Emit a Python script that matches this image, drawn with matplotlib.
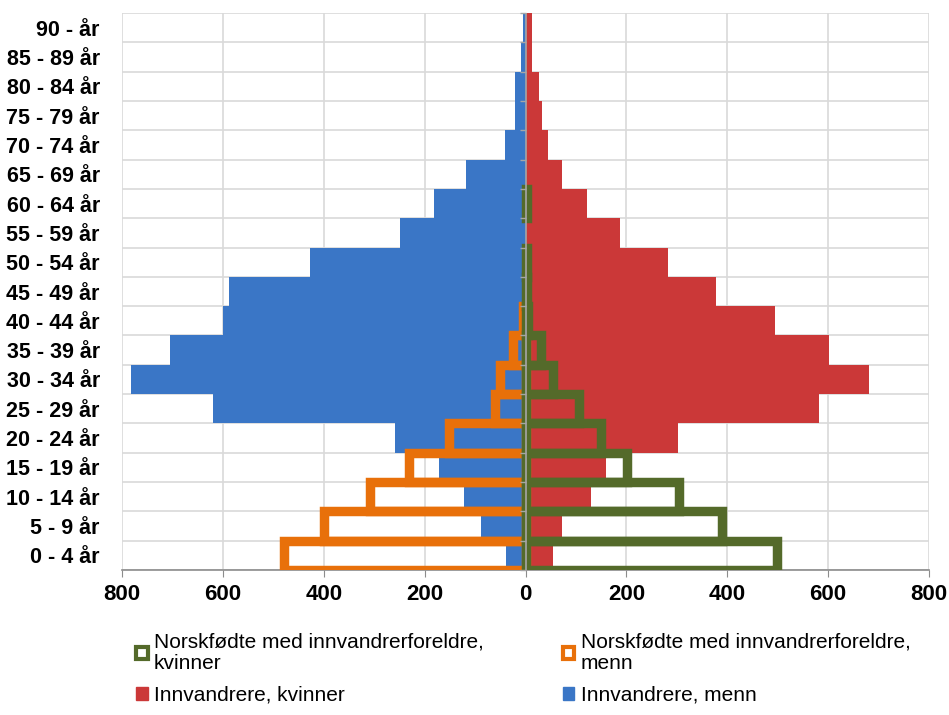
import numpy as np
import matplotlib
matplotlib.use("Agg")
import matplotlib.pyplot as plt
from matplotlib.patches import Patch

# age groups, bottom to top
ages = ["0 - 4 år", "5 - 9 år", "10 - 14 år", "15 - 19 år", "20 - 24 år",
        "25 - 29 år", "30 - 34 år", "35 - 39 år", "40 - 44 år", "45 - 49 år",
        "50 - 54 år", "55 - 59 år", "60 - 64 år", "65 - 69 år", "70 - 74 år",
        "75 - 79 år", "80 - 84 år", "85 - 89 år", "90 - år"]

innv_menn = [38, 88, 121, 172, 258, 619, 783, 704, 599, 587,
             428, 249, 181, 117, 40, 21, 21, 8, 4]
innv_kvinner = [55, 73, 130, 160, 303, 581, 681, 601, 495, 378,
                283, 187, 122, 73, 44, 32, 26, 13, 13]
norsk_menn = [478, 400, 308, 231, 151, 61, 51, 24, 5, 0,
              0, 0, 0, 0, 0, 0, 0, 0, 0]
norsk_kvinner = [499, 389, 305, 201, 150, 106, 54, 30, 5, 3,
                 3, 0, 2, 0, 0, 0, 0, 0, 0]

xticks = [-800, -600, -400, -200, 0, 200, 400, 600, 800]

C_BLUE = "#3A76C6"
C_RED = "#CB3838"
C_ORANGE = "#E8700A"
C_GREEN = "#546A2A"
C_GRID = "#D9D9D9"
C_AXIS = "#8C8C8C"

plt.rcParams["font.family"] = ["Liberation Sans", "DejaVu Sans"]

fig = plt.figure(figsize=(9.49, 7.15), dpi=100)
ax = fig.add_axes([122 / 949, 1 - 570 / 715, (929 - 122) / 949, (570 - 13) / 715])

y = np.arange(len(ages))

ax.barh(y, -np.array(innv_menn), height=1.0, color=C_BLUE, zorder=2)
ax.barh(y, innv_kvinner, height=1.0, color=C_RED, zorder=2)

# outline series: only rows with a value
nm = np.array(norsk_menn)
nk = np.array(norsk_kvinner)
m = nm > 0
ax.barh(y[m], -nm[m], height=1.0, facecolor="none", edgecolor=C_ORANGE,
        linewidth=6.8, zorder=3)
m = nk > 0
ax.barh(y[m], nk[m], height=1.0, facecolor="none", edgecolor=C_GREEN,
        linewidth=6.8, zorder=4)

# centre axis with small ticks at the row boundaries
ax.axvline(0, color="#A6A6A6", lw=1.2, zorder=5)
ax.plot(np.zeros(len(ages) + 1), np.arange(len(ages) + 1) - 0.5, ls="",
        marker=0, ms=4, mew=1, color="#A6A6A6", zorder=5, clip_on=False)

ax.set_xlim(-800, 800)
ax.set_ylim(-0.5, len(ages) - 0.5)

ax.set_xticks(xticks)
ax.set_xticklabels([str(abs(v)) for v in xticks], fontsize=16, fontweight="bold")
ax.set_yticks(y)
ax.set_yticklabels(ages, fontsize=15.5, fontweight="bold")
ax.set_yticks(np.arange(len(ages) + 1) - 0.5, minor=True)

ax.tick_params(axis="y", which="both", length=0, pad=16)
ax.tick_params(axis="x", length=5, color=C_AXIS, pad=5)

ax.grid(axis="x", color=C_GRID, lw=1.2, zorder=0)
ax.grid(axis="y", which="minor", color=C_GRID, lw=1.2, zorder=0)
ax.set_axisbelow(True)

for s in ["top", "right", "left"]:
    ax.spines[s].set_visible(False)
ax.spines["bottom"].set_color(C_AXIS)
ax.spines["bottom"].set_linewidth(1.2)

handles = [
    Patch(facecolor="white", edgecolor=C_GREEN, linewidth=3),
    Patch(facecolor=C_RED, edgecolor=C_RED),
    Patch(facecolor="white", edgecolor=C_ORANGE, linewidth=3),
    Patch(facecolor=C_BLUE, edgecolor=C_BLUE),
]
labels = [
    "Norskfødte med innvandrerforeldre,\nkvinner",
    "Innvandrere, kvinner",
    "Norskfødte med innvandrerforeldre,\nmenn",
    "Innvandrere, menn",
]
fig.legend(handles, labels, loc="upper left", bbox_to_anchor=(128 / 949, 1 - 624 / 715),
           ncol=2, frameon=False, fontsize=15, handlelength=0.55, handleheight=0.55,
           handletextpad=0.3, columnspacing=3.8, labelspacing=0.6, borderaxespad=0)

fig.savefig("out.png", dpi=100)
